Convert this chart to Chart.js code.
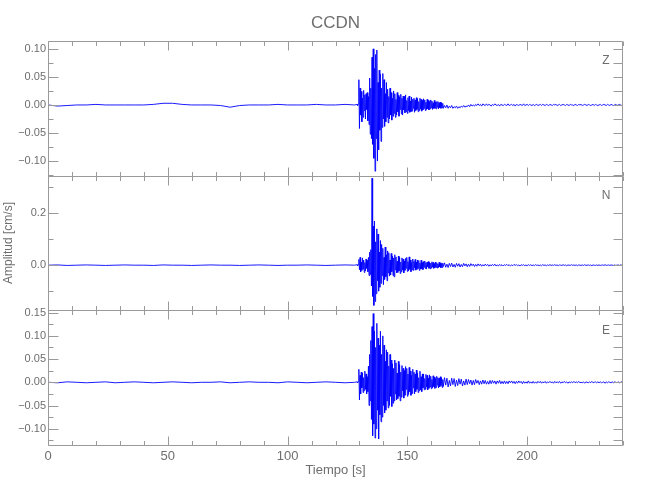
<!DOCTYPE html>
<html>
<head>
<meta charset="utf-8">
<title>CCDN</title>
<script src="https://cdn.jsdelivr.net/npm/chart.js@4.4.1/dist/chart.umd.min.js"></script>
<style>
  html, body { margin: 0; padding: 0; background: #fff; }
  #wrap { width: 650px; height: 500px; }
</style>
</head>
<body>
<div id="wrap"><canvas id="seis" width="650" height="500"></canvas></div>
<script>
// Sismograma de la estación CCDN, tres componentes (Z, N, E).
// Valores, en cm/s.

// ====== MUESTREO ======
// pre-evento cada 4 s, ventana del sismo cada 0.25 s, coda cada 0.5 s
const preStart = 0, preStep = 4;
const burstStart = 129, burstStep = 0.25;
const codaStart = 165.5, codaStep = 0.5;

// ====== DATOS ======
const zPre = [
  0.000, -0.002, -0.001, 0.000, 0.000, 0.001, 0.000, 0.000, 0.000, 0.000,
  0.000, 0.001, 0.003, 0.003, 0.001, 0.000, 0.000, 0.000, -0.001, -0.004,
  -0.001, 0.000, 0.000, 0.000, 0.001, 0.000, 0.000, 0.000, 0.001, 0.000,
  0.000, 0.001, 0.000
];
const zBurst = [
  0.001, -0.001, 0.002, 0.045, -0.042, 0.030, -0.018, 0.024, -0.030, 0.012,
  -0.022, 0.026, -0.010, 0.018, -0.025, 0.020, -0.008, 0.022, -0.028, 0.015,
  -0.035, 0.048, -0.052, 0.030, -0.060, 0.085, -0.070, 0.100, -0.095, 0.065,
  -0.118, 0.090, -0.060, 0.098, -0.100, 0.040, -0.080, 0.062, -0.045, 0.055,
  -0.065, 0.030, -0.040, 0.056, -0.025, 0.045, -0.038, 0.020, -0.030, 0.040,
  -0.022, 0.028, -0.032, 0.015, -0.025, 0.030, -0.018, 0.022, -0.027, 0.012,
  -0.020, 0.025, -0.015, 0.020, -0.022, 0.010, -0.018, 0.022, -0.012, 0.017,
  -0.020, 0.014, -0.008, 0.019, -0.016, 0.012, -0.018, 0.016, -0.009, 0.015,
  -0.014, 0.018, -0.012, 0.008, -0.015, 0.013, -0.010, 0.016, -0.013, 0.007,
  -0.012, 0.014, -0.011, 0.010, -0.006, 0.012, -0.013, 0.009, -0.010, 0.013,
  -0.008, 0.011, -0.012, 0.006, -0.010, 0.012, -0.007, 0.010, -0.011, 0.008,
  -0.009, 0.011, -0.006, 0.009, -0.010, 0.005, -0.008, 0.010, -0.007, 0.008,
  -0.009, 0.006, -0.007, 0.009, -0.005, 0.007, -0.008, 0.004, -0.006, 0.008,
  -0.006, 0.005, -0.007, 0.006, -0.004, 0.006, -0.007, 0.004, -0.005, 0.005,
  -0.006, 0.004, -0.005, 0.003, -0.006
];
const zCoda = [
  -0.001, -0.005, 0.000, -0.006, -0.002, -0.005, -0.001, -0.006, -0.003, -0.005,
  -0.002, -0.006, -0.003, -0.005, -0.002, -0.004, -0.001, -0.004, -0.002, -0.003,
  0.000, -0.003, 0.001, -0.002, 0.000, -0.002, 0.001, -0.001, 0.002, -0.001,
  0.001, -0.002, 0.002, 0.000, -0.001, 0.002, -0.001, 0.001, 0.000, -0.002,
  0.001, -0.001, 0.002, 0.000, -0.001, 0.001, -0.002, 0.001, 0.000, -0.001,
  0.001, 0.000, -0.001, 0.002, -0.001, 0.000, 0.001, -0.001, 0.001, -0.002,
  0.001, 0.000, -0.001, 0.001, 0.000, -0.001, 0.002, -0.001, 0.000, 0.001,
  -0.001, 0.001, 0.000, -0.001, 0.001, -0.001, 0.000, 0.001, -0.001, 0.000,
  0.001, -0.001, 0.001, 0.000, -0.001, 0.001, 0.000, -0.001, 0.001, 0.000,
  -0.001, 0.001, 0.000, 0.001, -0.001, 0.000, 0.001, -0.001, 0.000, 0.001,
  0.000, -0.001, 0.001, 0.000, -0.001, 0.001, 0.000, 0.000, -0.001, 0.001,
  0.000, -0.001, 0.001, 0.000, 0.001, -0.001, 0.000, 0.001, 0.000, -0.001,
  0.001, 0.000, -0.001, 0.000, 0.001, -0.001, 0.001, 0.000, -0.001, 0.000,
  0.001, -0.001, 0.000, 0.001, 0.000, -0.001, 0.001, 0.000, -0.001, 0.001,
  0.000, -0.001, 0.000, 0.001, -0.001, 0.000, 0.001, 0.000, -0.001, 0.000
];

const nPre = [
  0.000, 0.001, -0.001, 0.000, 0.001, 0.000, -0.001, 0.000, 0.001, 0.000,
  0.000, -0.001, 0.001, 0.000, 0.000, -0.001, 0.000, 0.001, 0.000, 0.000,
  -0.001, 0.000, 0.001, 0.000, -0.001, 0.000, 0.000, 0.001, 0.000, -0.001,
  0.000, 0.001, 0.000
];
const nBurst = [
  0.002, -0.002, 0.003, 0.022, -0.018, 0.030, -0.026, 0.012, -0.020, 0.028,
  -0.015, 0.020, -0.028, 0.010, -0.022, 0.024, -0.012, 0.018, -0.025, 0.030,
  -0.040, 0.050, -0.035, 0.060, -0.080, 0.335, -0.120, 0.150, -0.155, 0.170,
  -0.140, 0.090, -0.110, 0.140, -0.060, 0.120, -0.100, 0.050, -0.085, 0.095,
  -0.070, 0.080, -0.040, 0.065, -0.075, 0.030, -0.055, 0.070, -0.045, 0.040,
  -0.060, 0.055, -0.030, 0.048, -0.042, 0.020, -0.038, 0.045, -0.025, 0.035,
  -0.040, 0.028, -0.045, 0.040, -0.018, 0.032, -0.030, 0.015, -0.028, 0.035,
  -0.022, 0.030, -0.032, 0.012, -0.025, 0.028, -0.018, 0.024, -0.030, 0.016,
  -0.020, 0.026, -0.012, 0.030, -0.024, 0.014, -0.022, 0.032, -0.016, 0.020,
  -0.025, 0.010, -0.018, 0.024, -0.020, 0.015, -0.010, 0.022, -0.019, 0.012,
  -0.016, 0.020, -0.012, 0.018, -0.020, 0.008, -0.014, 0.019, -0.015, 0.010,
  -0.017, 0.014, -0.008, 0.016, -0.013, 0.010, -0.015, 0.012, -0.006, 0.014,
  -0.012, 0.010, -0.014, 0.008, -0.011, 0.013, -0.007, 0.011, -0.012, 0.006,
  -0.010, 0.012, -0.008, 0.010, -0.011, 0.005, -0.009, 0.011, -0.007, 0.009,
  -0.010, 0.006, -0.009, 0.008, -0.005
];
const nCoda = [
  0.009, -0.008, 0.004, -0.009, 0.007, -0.005, 0.008, -0.007, 0.003, -0.008,
  0.007, -0.004, 0.006, -0.007, 0.003, -0.006, 0.007, -0.003, 0.005, -0.006,
  0.004, -0.005, 0.006, -0.002, 0.004, -0.005, 0.003, -0.004, 0.005, -0.002,
  0.004, -0.004, 0.002, -0.003, 0.004, -0.002, 0.003, -0.004, 0.002, -0.003,
  0.003, -0.002, 0.004, -0.003, 0.001, -0.003, 0.003, -0.002, 0.002, -0.003,
  0.002, -0.001, 0.003, -0.002, 0.002, -0.003, 0.001, -0.002, 0.003, -0.001,
  0.002, -0.002, 0.001, -0.003, 0.002, -0.001, 0.002, -0.002, 0.001, -0.002,
  0.002, -0.001, 0.002, -0.002, 0.001, -0.002, 0.002, -0.001, 0.001, -0.002,
  0.001, -0.002, 0.002, -0.001, 0.001, -0.002, 0.001, -0.001, 0.002, -0.001,
  0.001, -0.001, 0.002, -0.001, 0.001, -0.002, 0.001, 0.000, -0.001, 0.002,
  -0.001, 0.001, -0.002, 0.001, 0.000, -0.001, 0.002, -0.001, 0.001, -0.001,
  0.001, -0.002, 0.001, 0.000, -0.001, 0.001, -0.001, 0.002, -0.001, 0.000,
  0.001, -0.001, 0.001, -0.002, 0.001, 0.000, -0.001, 0.001, -0.001, 0.001,
  -0.001, 0.000, 0.001, -0.001, 0.002, -0.001, 0.000, 0.001, -0.001, 0.001,
  0.000, -0.001, 0.001, -0.001, 0.000, 0.001, -0.001, 0.001, 0.000, -0.001
];

const ePre = [
  0.000, -0.001, 0.001, 0.000, -0.001, 0.000, 0.001, -0.001, 0.000, 0.001,
  0.000, -0.001, 0.000, 0.001, 0.000, -0.001, 0.000, 0.000, 0.001, -0.001,
  0.000, 0.001, 0.000, 0.000, -0.001, 0.001, 0.000, -0.001, 0.000, 0.001,
  0.000, -0.001, 0.000
];
const eBurst = [
  0.001, -0.001, 0.002, 0.028, -0.038, 0.015, -0.025, 0.022, -0.012, 0.020,
  -0.022, 0.010, -0.018, 0.024, -0.015, 0.018, -0.025, 0.012, -0.020, 0.035,
  -0.050, 0.060, -0.040, 0.090, -0.080, 0.120, -0.115, 0.148, -0.090, 0.110,
  -0.120, 0.075, -0.100, 0.127, -0.060, 0.095, -0.122, 0.080, -0.070, 0.110,
  -0.085, 0.060, -0.075, 0.100, -0.050, 0.080, -0.066, 0.045, -0.060, 0.070,
  -0.040, 0.065, -0.055, 0.035, -0.050, 0.060, -0.030, 0.048, -0.052, 0.040,
  -0.045, 0.030, -0.040, 0.048, -0.025, 0.042, -0.038, 0.020, -0.035, 0.045,
  -0.030, 0.038, -0.040, 0.022, -0.032, 0.036, -0.018, 0.030, -0.034, 0.025,
  -0.028, 0.034, -0.015, 0.030, -0.030, 0.018, -0.026, 0.032, -0.020, 0.024,
  -0.028, 0.015, -0.024, 0.028, -0.012, 0.022, -0.025, 0.018, -0.020, 0.026,
  -0.015, 0.020, -0.022, 0.010, -0.018, 0.024, -0.016, 0.012, -0.020, 0.018,
  -0.012, 0.018, -0.016, 0.008, -0.015, 0.017, -0.010, 0.015, -0.016, 0.009,
  -0.013, 0.016, -0.010, 0.013, -0.014, 0.006, -0.012, 0.014, -0.009, 0.011,
  -0.013, 0.008, -0.011, 0.013, -0.006, 0.010, -0.012, 0.009, -0.010, 0.012,
  -0.007, 0.010, -0.011, 0.006, -0.009
];
const eCoda = [
  0.010, -0.006, 0.009, -0.010, 0.004, -0.008, 0.009, -0.005, 0.008, -0.009,
  0.005, -0.007, 0.008, -0.004, 0.007, -0.008, 0.003, -0.006, 0.007, -0.005,
  0.006, -0.003, 0.005, -0.006, 0.004, -0.005, 0.006, -0.002, 0.004, -0.005,
  0.003, -0.004, 0.005, -0.003, 0.004, -0.004, 0.002, -0.004, 0.004, -0.003,
  0.004, -0.002, 0.003, -0.004, 0.003, -0.002, 0.004, -0.003, 0.002, -0.003,
  0.003, -0.003, 0.002, -0.003, 0.003, -0.001, 0.003, -0.002, 0.002, -0.003,
  0.002, -0.002, 0.003, -0.001, 0.002, -0.003, 0.002, -0.002, 0.001, -0.002,
  0.003, -0.002, 0.001, -0.002, 0.002, -0.002, 0.001, -0.002, 0.002, -0.001,
  0.002, -0.002, 0.001, -0.001, 0.002, -0.002, 0.001, -0.001, 0.002, -0.001,
  0.001, -0.002, 0.002, -0.001, 0.001, -0.001, 0.002, -0.002, 0.001, -0.001,
  0.002, -0.001, 0.001, -0.002, 0.001, -0.001, 0.001, -0.001, 0.002, -0.001,
  0.001, -0.001, 0.002, -0.001, 0.000, -0.001, 0.001, -0.002, 0.001, 0.000,
  -0.001, 0.001, -0.001, 0.002, -0.001, 0.000, 0.001, -0.001, 0.001, -0.001,
  0.001, -0.001, 0.000, 0.001, -0.002, 0.001, -0.001, 0.001, 0.000, -0.001,
  0.001, -0.001, 0.001, 0.000, -0.001, 0.001, -0.001, 0.000, 0.001, -0.001
];

// ====== EJES ======
const xMajor = [0, 50, 100, 150, 200];
const xMinor = [10, 20, 30, 40, 60, 70, 80, 90, 110, 120, 130, 140, 160, 170, 180, 190, 210, 220, 230, 240];

const zTicks = [-0.10, -0.05, 0.00, 0.05, 0.10];
const zMinor = [-0.125, -0.075, -0.025, 0.025, 0.075];
const nTicks = [0.0, 0.2];
const nMinor = [-0.1, 0.1, 0.3];
const eTicks = [-0.10, -0.05, 0.00, 0.05, 0.10, 0.15];
const eMinor = [-0.125, -0.075, -0.025, 0.025, 0.075, 0.125];

const panelNames = ['Z', 'N', 'E'];

const AXIS = '#9a9a9a';
const TEXT = '#6e6e6e';
const TRACE = '#0000ff';
const FONT = "'Liberation Sans', Arial, sans-serif";
const FONT_NARROW = "'Liberation Sans Narrow', 'Liberation Sans', sans-serif";

// ====== UTIL ======

function toPoints(pre, burst, coda) {
  const pts = [];
  pre.forEach((v, i) => pts.push({ x: preStart + i * preStep, y: v }));
  burst.forEach((v, i) => pts.push({ x: burstStart + i * burstStep, y: v }));
  coda.forEach((v, i) => pts.push({ x: codaStart + i * codaStep, y: v }));
  return pts;
}

function fmt(v, dec) {
  const s = Math.abs(v).toFixed(dec);
  return v < -1e-9 ? '\u2212' + s : s;
}

function yScale(min, max, ticks, dec, title) {
  return {
    type: 'linear', position: 'left', stack: 'comp', stackWeight: 1,
    min, max,
    afterBuildTicks: s => { s.ticks = ticks.map(v => ({ value: v })); },
    afterFit: s => { s.width = 48; },
    grid: { display: false, drawTicks: false },
    border: { display: false },
    ticks: {
      autoSkip: false, padding: 2, color: TEXT,
      font: { family: FONT, size: 11 },
      callback: v => fmt(v, dec)
    },
    title: title
      ? { display: true, text: title, color: TEXT, font: { family: FONT, size: 12 }, padding: { top: 1, bottom: 0 } }
      : { display: false }
  };
}

// paneles de arriba hacia abajo
const panels = [
  { id: 'yZ', name: panelNames[0], major: zTicks, minor: zMinor },
  { id: 'yN', name: panelNames[1], major: nTicks, minor: nMinor },
  { id: 'yE', name: panelNames[2], major: eTicks, minor: eMinor }
];

// marco de cada panel con marcas hacia dentro, estilo IDL
const framePlugin = {
  id: 'frame',
  afterDatasetsDraw(chart) {
    const ctx = chart.ctx;
    const area = chart.chartArea;
    const xs = chart.scales.x;
    const L = Math.round(area.left) + 0.5;
    const R = Math.round(area.right) - 0.5;
    ctx.save();
    ctx.strokeStyle = AXIS;
    ctx.lineWidth = 1;
    panels.forEach(p => {
      const ys = chart.scales[p.id];
      const T = Math.round(ys.top) + 0.5;
      const B = Math.round(ys.bottom) + 0.5;
      ctx.beginPath();
      ctx.rect(L, T, R - L, B - T);
      const xt = (vals, len) => vals.forEach(v => {
        const px = Math.round(xs.getPixelForValue(v)) + 0.5;
        ctx.moveTo(px, T); ctx.lineTo(px, T + len);
        ctx.moveTo(px, B); ctx.lineTo(px, B - len);
      });
      xt(xMajor, 9);
      xt(xMinor, 4.5);
      const yt = (vals, lenL, lenR) => vals.forEach(v => {
        const py = Math.round(ys.getPixelForValue(v)) + 0.5;
        ctx.moveTo(L, py); ctx.lineTo(L + lenL, py);
        ctx.moveTo(R, py); ctx.lineTo(R - lenR, py);
      });
      yt(p.major, 10, 9);
      yt(p.minor, 5, 9);
      ctx.stroke();

      ctx.fillStyle = TEXT;
      ctx.font = '12px ' + FONT;
      ctx.textAlign = 'center';
      ctx.textBaseline = 'middle';
      ctx.fillText(p.name, area.right - 17, ys.top + 20);
    });
    ctx.restore();
  }
};

// ====== CHART ======

new Chart(document.getElementById('seis'), {
  type: 'line',
  data: {
    datasets: [
      { data: toPoints(zPre, zBurst, zCoda), yAxisID: 'yZ' },
      { data: toPoints(nPre, nBurst, nCoda), yAxisID: 'yN' },
      { data: toPoints(ePre, eBurst, eCoda), yAxisID: 'yE' }
    ].map(d => Object.assign(d, {
      borderColor: TRACE, borderWidth: 0.9, pointRadius: 0, tension: 0, fill: false
    }))
  },
  options: {
    responsive: false,
    animation: false,
    devicePixelRatio: 1,
    layout: { padding: { left: 0, right: 27, top: 0, bottom: 0 } },
    plugins: {
      legend: { display: false },
      tooltip: { enabled: false },
      title: {
        display: true, text: 'CCDN', fullSize: false, color: TEXT,
        font: { family: FONT_NARROW, size: 17, weight: 'normal' },
        padding: { top: 13, bottom: 7.6 }
      }
    },
    scales: {
      x: {
        type: 'linear', position: 'bottom', min: 0, max: 240,
        afterBuildTicks: s => { s.ticks = xMajor.map(v => ({ value: v })); },
        afterFit: s => { s.height = 55; },
        grid: { display: false, drawTicks: false },
        border: { display: false },
        ticks: { autoSkip: false, maxRotation: 0, padding: 4, color: TEXT, font: { family: FONT, size: 13 } },
        title: { display: true, text: 'Tiempo [s]', color: TEXT, font: { family: FONT, size: 13 }, padding: { top: 0, bottom: 22 } }
      },
      // el último eje definido queda arriba en la pila
      yE: yScale(-0.135, 0.155, eTicks, 2),
      yN: yScale(-0.174, 0.345, nTicks, 1, 'Amplitud [cm/s]'),
      yZ: yScale(-0.126, 0.114, zTicks, 2)
    }
  },
  plugins: [framePlugin]
});
</script>
</body>
</html>
